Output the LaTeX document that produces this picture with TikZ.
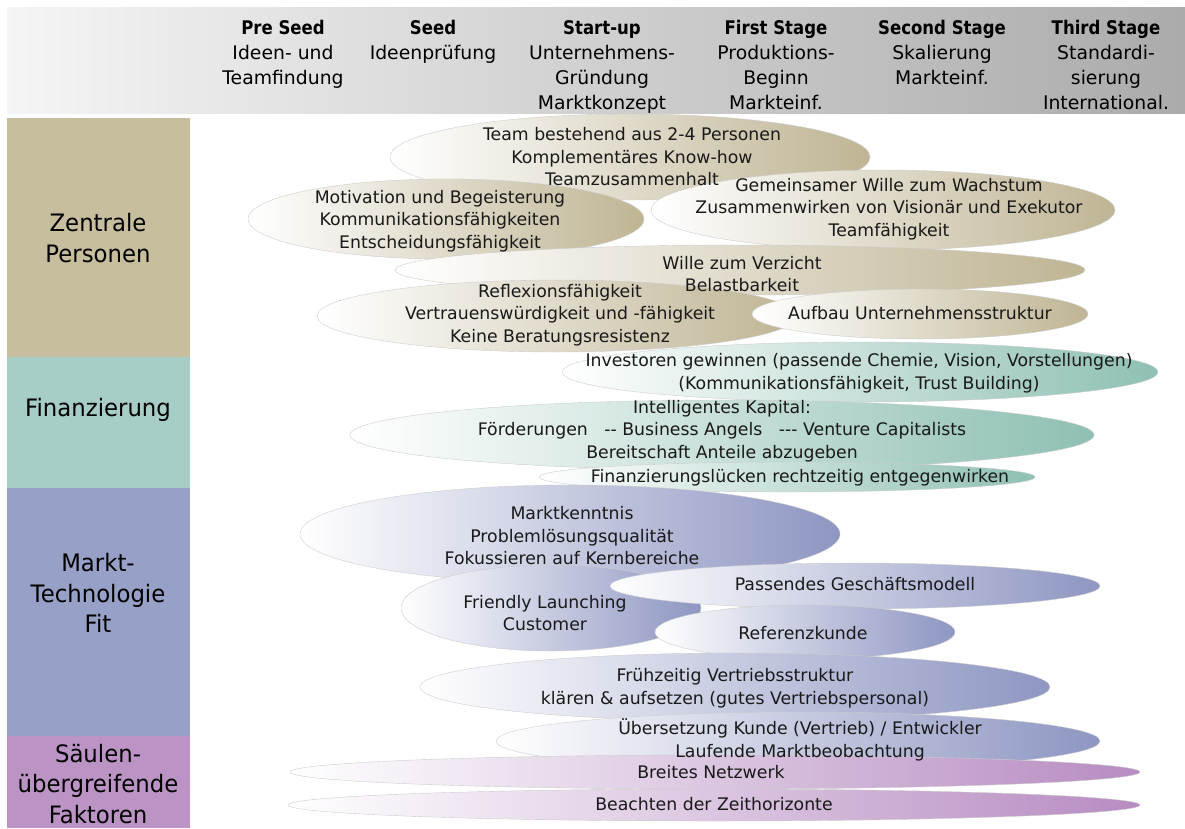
\documentclass[tikz,border=0pt]{standalone}
\usepackage{fontspec}
\setmainfont[Ligatures=TeXOff, BoldFeatures={FakeStretch=0.88}]{DejaVu Sans}
\newfontfamily\labelfont[FakeStretch=0.95]{DejaVu Sans}
\usetikzlibrary{positioning}

% pillar colours
\definecolor{tanc}{HTML}{C6BE9C}
\definecolor{tealc}{HTML}{A7CEC6}
\definecolor{bluec}{HTML}{97A0C6}
\definecolor{lilac}{HTML}{BC93C5}
% ellipse colours (right end of the shading)
\definecolor{tanb}{HTML}{BFB594}
\definecolor{tealb}{HTML}{8FC0B3}
\definecolor{blueb}{HTML}{8E96C2}
\definecolor{lilab}{HTML}{B78CC2}

\tikzset{
  blob/.style={left color=white, right color=#1, draw=black!20, line width=0.4pt},
  blobtext/.style={align=center, inner sep=0pt, text=black!90,
    font=\fontsize{17.3}{22.5}\selectfont},
  stagehead/.style={align=center, anchor=north, inner sep=0pt,
    font=\fontsize{18.8}{25}\selectfont},
  pillarlabel/.style={align=center, inner sep=0pt,
    font=\labelfont\fontsize{24}{30.5}\selectfont}
}

\begin{document}
\begin{tikzpicture}[x=1pt,y=-1pt]
\useasboundingbox (0,0) rectangle (1185,828);

% header band
\shade[left color=gray!8, right color=gray!66] (7,7) rectangle (1185,113);

% pillars on the left
\fill[tanc]  (7,118) rectangle (190,357);
\fill[tealc] (7,357) rectangle (190,488);
\fill[bluec] (7,488) rectangle (190,736);
\fill[lilac] (7,736) rectangle (190,828);

% stage headings
\node[stagehead] (preseed) at (283,20) {\textbf{Pre Seed}\\Ideen- und\\Teamfindung};
\node[stagehead] (seed)    at (433,20) {\textbf{Seed}\\Ideenprüfung};
\node[stagehead] (startup) at (602,20) {\textbf{Start-up}\\Unternehmens-\\Gründung\\Marktkonzept};
\node[stagehead] (first)   at (776,20) {\textbf{First Stage}\\Produktions-\\Beginn\\Markteinf.};
\node[stagehead] (second)  at (942,20) {\textbf{Second Stage}\\Skalierung\\Markteinf.};
\node[stagehead] (third)   at (1106,20) {\textbf{Third Stage}\\Standardi-\\sierung\\International.};

% factor ellipses: x/y/rx/ry/colour
\foreach \cx/\cy/\rx/\ry/\col in {
    630/157/240/43/tanb, 446/219/198/40/tanb, 883/210/232/40/tanb,
    740/270/345/25/tanb, 557/316/240/36/tanb, 920/314/168/25/tanb,
    860/372/298/30/tealb, 722/435/372/35/tealb, 787/477/248/15/tealb,
    570/534/270/49/blueb, 551/608/150/43/blueb, 855/586/245/23/blueb,
    805/632/150/27/blueb, 735/687/315/34/blueb, 798/741/302/29/blueb,
    715/772/425/17/lilab, 714/805/426/16/lilab}
  \shade[blob=\col] (\cx,\cy) ellipse [x radius=\rx pt, y radius=\ry pt];

% Zentrale Personen
\node[blobtext] (team)    at (632,157) {Team bestehend aus 2-4 Personen\\Komplementäres Know-how\\Teamzusammenhalt};
\node[blobtext] (motiv)   at (440,221) {Motivation und Begeisterung\\Kommunikationsfähigkeiten\\Entscheidungsfähigkeit};
\node[blobtext] (wachs)   at (889,209) {Gemeinsamer Wille zum Wachstum\\Zusammenwirken von Visionär und Exekutor\\Teamfähigkeit};
\node[blobtext] (verz)    at (742,274) {Wille zum Verzicht\\Belastbarkeit};
\node[blobtext] (reflex)  at (560,315) {Reflexionsfähigkeit\\Vertrauenswürdigkeit und -fähigkeit\\Keine Beratungsresistenz};
\node[blobtext] (aufbau)  at (920,313) {Aufbau Unternehmensstruktur};

% Finanzierung
\node[blobtext] (invest)  at (859,373) {Investoren gewinnen (passende Chemie, Vision, Vorstellungen)\\(Kommunikationsfähigkeit, Trust Building)};
\node[blobtext] (kapital) at (722,431) {Intelligentes Kapital:\\Förderungen\ \ \ -- Business Angels\ \ \ --- Venture Capitalists\\Bereitschaft Anteile abzugeben};
\node[blobtext] (luecke)  at (800,478) {Finanzierungslücken rechtzeitig entgegenwirken};

% Markt-Technologie Fit
\node[blobtext] (markt)   at (572,536) {Marktkenntnis\\Problemlösungsqualität\\Fokussieren auf Kernbereiche};
\node[blobtext] (launch)  at (545,613) {Friendly Launching\\Customer};
\node[blobtext] (modell)  at (855,584) {Passendes Geschäftsmodell};
\node[blobtext] (referenz) at (803,633) {Referenzkunde};
\node[blobtext] (vertrieb) at (735,688) {Frühzeitig Vertriebsstruktur\\klären \& aufsetzen (gutes Vertriebspersonal)};
\node[blobtext] (uebers)  at (800,740) {Übersetzung Kunde (Vertrieb) / Entwickler\\Laufende Marktbeobachtung};

% saeulenuebergreifend
\node[blobtext] (netz)    at (711,772) {Breites Netzwerk};
\node[blobtext] (zeit)    at (714,804) {Beachten der Zeithorizonte};

% pillar labels
\node[pillarlabel] (zp)  at (98,238) {Zentrale\\Personen};
\node[pillarlabel] (fin) at (98,410) {Finanzierung};
\node[pillarlabel] (mtf) at (98,593) {Markt-\\Technologie\\Fit};
\node[pillarlabel] (sue) at (98,784) {Säulen-\\übergreifende\\Faktoren};
\end{tikzpicture}
\end{document}
